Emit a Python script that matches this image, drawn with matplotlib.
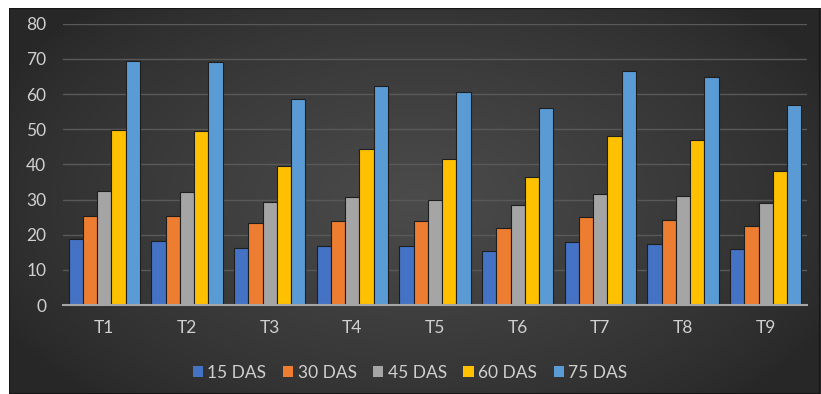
import numpy as np
import matplotlib.pyplot as plt

treatments = ["T1", "T2", "T3", "T4", "T5", "T6", "T7", "T8", "T9"]
stages = ["15 DAS", "30 DAS", "45 DAS", "60 DAS", "75 DAS"]

das15 = [18.8, 18.2, 16.1, 16.8, 16.8, 15.3, 18.0, 17.3, 15.9]
das30 = [25.3, 25.3, 23.2, 23.9, 23.9, 21.9, 25.0, 24.1, 22.6]
das45 = [32.4, 32.0, 29.3, 30.6, 30.0, 28.3, 31.5, 31.0, 28.9]
das60 = [49.7, 49.4, 39.4, 44.4, 41.5, 36.5, 48.0, 46.8, 38.2]
das75 = [69.4, 69.0, 58.5, 62.3, 60.5, 55.9, 66.5, 64.7, 57.0]

colors = ["#4472c4", "#ed7d31", "#a5a5a5", "#ffc000", "#5b9bd5"]
series = [das15, das30, das45, das60, das75]

plt.rcParams['font.family'] = ['Lato', 'DejaVu Sans']

W, H = 821, 394
fig = plt.figure(figsize=(W / 100, H / 100), dpi=100)
fig.patch.set_facecolor("white")

# dark panel, a little lighter towards the middle
bg = fig.add_axes([9 / W, 0, (820 - 9) / W, (394 - 8) / H])
yy, xx = np.mgrid[-1:1:200j, -1:1:400j]
r = np.sqrt((xx / 1.15) ** 2 + (yy / 1.4) ** 2)
glow = np.clip(1 - r, 0, 1) ** 0.8
shade = 0.155 + 0.14 * glow
bg.imshow(np.dstack([shade] * 3), aspect="auto", extent=[0, 1, 0, 1])
bg.set_axis_off()
bg.add_patch(plt.Rectangle((0, 0), 1, 1, transform=bg.transAxes, fill=False,
                           edgecolor="#151515", lw=1.5))

ax = fig.add_axes([63 / W, (H - 305) / H, (807 - 63) / W, (305 - 23.7) / H])
ax.set_facecolor("none")

x = np.arange(len(treatments))
w = 0.173
for i, (vals, c, lab) in enumerate(zip(series, colors, stages)):
    ax.bar(x + (i - 2) * w, vals, width=w, color=c, edgecolor="#1e1e1e",
           linewidth=0.8, label=lab, zorder=3)

ax.set_xlim(-0.5, len(treatments) - 0.5)
ax.set_ylim(0, 80)
ax.set_yticks(range(0, 81, 10))
ax.set_xticks(x)
ax.set_xticklabels(treatments)
ax.grid(axis="y", color="#595959", lw=1, zorder=0)
ax.tick_params(axis="both", length=0, labelsize=12.5, labelcolor="#d0d0d0")
ax.tick_params(axis="y", pad=12)
ax.tick_params(axis="x", pad=11)
for s in ["left", "right", "top"]:
    ax.spines[s].set_visible(False)
ax.spines["bottom"].set_color("#a6a6a6")
ax.spines["bottom"].set_linewidth(1.5)
ax.spines["bottom"].set_zorder(4)

leg = fig.legend(loc="center", bbox_to_anchor=(410 / W, 1 - 373 / H), ncol=5,
                 frameon=False, fontsize=12.5, handlelength=0.6,
                 handleheight=0.6, handletextpad=0.25, columnspacing=0.95,
                 labelcolor="#d0d0d0")
for h in leg.legend_handles:
    h.set_edgecolor("none")

fig.savefig("out.png", dpi=100, facecolor=fig.get_facecolor())
